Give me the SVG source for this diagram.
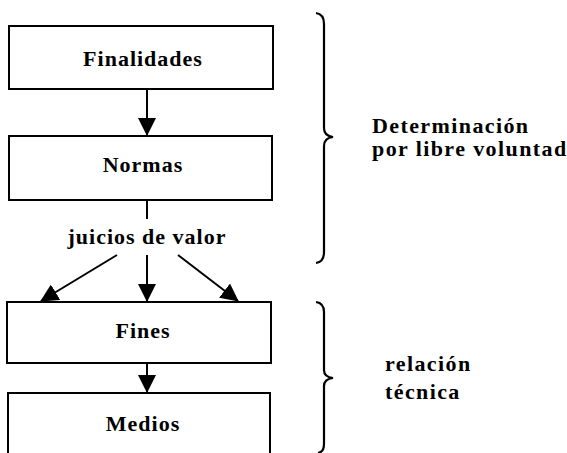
<svg xmlns="http://www.w3.org/2000/svg" width="567" height="453" viewBox="0 0 567 453">
<style>
.box{fill:#fff;stroke:#000;stroke-width:2}
.t{font-family:"Liberation Serif",serif;font-weight:bold;font-size:22px;letter-spacing:1px;fill:#000}
.w{letter-spacing:1.4px}
.c{text-anchor:middle}
.ln{stroke:#000;stroke-width:2;fill:none}
.br{stroke:#000;stroke-width:2.2;fill:none}
</style>
<defs>
<marker id="ah" markerWidth="18" markerHeight="18" viewBox="0 0 18 18" refX="17" refY="9" orient="auto" markerUnits="userSpaceOnUse">
<path d="M0,0 L18,9 L0,18 Z" fill="#000"/>
</marker>
</defs>
<g id="connectors">
<line class="ln" x1="147" y1="89" x2="147" y2="135" marker-end="url(#ah)"/>
<line class="ln" x1="147" y1="200" x2="147" y2="219"/>
<line class="ln" x1="117" y1="255" x2="41" y2="301" marker-end="url(#ah)"/>
<line class="ln" x1="147" y1="255" x2="147" y2="301" marker-end="url(#ah)"/>
<line class="ln" x1="178" y1="255" x2="238" y2="301" marker-end="url(#ah)"/>
<line class="ln" x1="147" y1="363" x2="147" y2="392" marker-end="url(#ah)"/>
</g>
<g id="finalidades">
<rect class="box" x="9" y="26" width="264" height="63"/>
<text class="t c" x="143" y="66">Finalidades</text>
</g>
<g id="normas">
<rect class="box" x="9" y="136" width="263" height="64"/>
<text class="t c" x="143" y="172">Normas</text>
</g>
<g id="juicios">
<text class="t c" x="147" y="244">juicios de valor</text>
</g>
<g id="fines">
<rect class="box" x="7" y="302" width="264" height="61"/>
<text class="t c" x="143" y="338">Fines</text>
</g>
<g id="medios">
<rect class="box" x="8" y="393" width="262" height="80"/>
<text class="t c" x="143" y="431">Medios</text>
</g>
<g id="brace1">
<path class="br" d="M316,13 Q324,14 324,24 L324,128 Q324,136 333,137 Q324,138 324,146 L324,252 Q324,262 316,263"/>
<text class="t w" x="372" y="133">Determinación</text>
<text class="t w" x="372" y="156">por libre voluntad</text>
</g>
<g id="brace2">
<path class="br" d="M316,302 Q324,303 324,312 L324,370 Q324,377 333,378 Q324,379 324,386 L324,444 Q324,452 318,453"/>
<text class="t w" x="385" y="371">relación</text>
<text class="t w" x="385" y="399">técnica</text>
</g>
</svg>
